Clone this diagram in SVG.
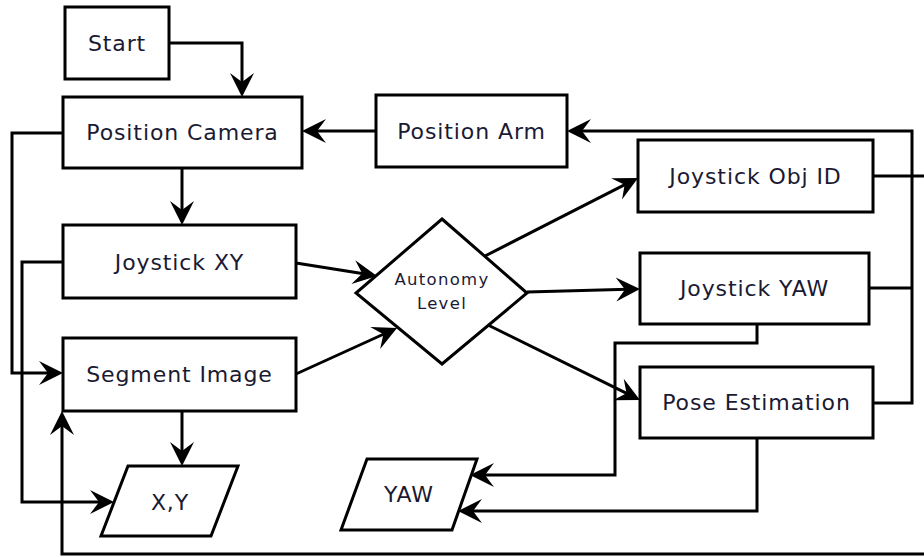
<svg xmlns="http://www.w3.org/2000/svg" width="924" height="557" viewBox="0 0 924 557">
<style>
.box{fill:#fff;stroke:#000;stroke-width:3}
.lbl{font-family:"DejaVu Sans",sans-serif;font-size:22px;letter-spacing:0.9px;fill:#1a1a33;text-anchor:middle}
.small{font-family:"DejaVu Sans",sans-serif;font-size:16.5px;letter-spacing:1.3px;fill:#1a1a33;text-anchor:middle}
.c{fill:none;stroke:#000;stroke-width:3}
</style>
<defs>
<marker id="arr" markerUnits="userSpaceOnUse" markerWidth="26" markerHeight="26" refX="12" refY="12" orient="auto" overflow="visible">
<path d="M24,12 L0,0 L9,12 L0,24 Z" fill="#000"/>
</marker>
</defs>
<rect width="924" height="557" fill="#fff"/>
<g id="connectors">
<path class="c" marker-end="url(#arr)" d="M169,43 H242 V85"/>
<path class="c" marker-end="url(#arr)" d="M376,131 H314"/>
<path class="c" marker-end="url(#arr)" d="M873,403 H912 V131 H579"/>
<path class="c" d="M869,288 H912"/>
<path class="c" marker-end="url(#arr)" d="M873,176 H930 V554 H62 V423"/>
<path class="c" marker-end="url(#arr)" d="M182,168 V213"/>
<path class="c" marker-end="url(#arr)" d="M63,133 H12 V373 H51"/>
<path class="c" marker-end="url(#arr)" d="M63,262 H22 V502 H102"/>
<path class="c" marker-end="url(#arr)" d="M182,411 V454"/>
<path class="c" marker-end="url(#arr)" d="M296,263 L365.2,274.1"/>
<path class="c" marker-end="url(#arr)" d="M296,374 L386.1,333"/>
<path class="c" marker-end="url(#arr)" d="M485,256 L627.3,183.4"/>
<path class="c" marker-end="url(#arr)" d="M527,292 L628,289.3"/>
<path class="c" marker-end="url(#arr)" d="M488,325 L629.2,394.7"/>
<path class="c" marker-end="url(#arr)" d="M757,324 V343 H615 V475 H482"/>
<path class="c" marker-end="url(#arr)" d="M757,438 V511 H470"/>
</g>
<g id="start"><rect class="box" x="65" y="7" width="104" height="72"/><text class="lbl" x="117" y="51">Start</text></g>
<g id="position-camera"><rect class="box" x="63" y="97" width="239" height="71"/><text class="lbl" x="182.5" y="140">Position Camera</text></g>
<g id="position-arm"><rect class="box" x="376" y="95" width="191" height="72"/><text class="lbl" x="471.5" y="139">Position Arm</text></g>
<g id="joystick-xy"><rect class="box" x="63" y="225" width="233" height="73"/><text class="lbl" x="179.5" y="270">Joystick XY</text></g>
<g id="segment-image"><rect class="box" x="63" y="338" width="233" height="73"/><text class="lbl" x="179.5" y="382">Segment Image</text></g>
<g id="autonomy-level"><polygon class="box" points="442,219 527,293 442,364 356,293"/><text class="small" x="442" y="285">Autonomy</text><text class="small" x="442" y="309">Level</text></g>
<g id="joystick-obj-id"><rect class="box" x="638" y="140" width="235" height="72"/><text class="lbl" x="755.5" y="184">Joystick Obj ID</text></g>
<g id="joystick-yaw"><rect class="box" x="640" y="253" width="229" height="71"/><text class="lbl" x="754.5" y="296">Joystick YAW</text></g>
<g id="pose-estimation"><rect class="box" x="640" y="367" width="233" height="71"/><text class="lbl" x="756.5" y="410">Pose Estimation</text></g>
<g id="xy"><polygon class="box" points="128,466 238,466 211,536 101,536"/><text class="lbl" x="170" y="510">X,Y</text></g>
<g id="yaw"><polygon class="box" points="367,459 477,459 452,530 341,530"/><text class="lbl" x="409" y="502">YAW</text></g>
</svg>
